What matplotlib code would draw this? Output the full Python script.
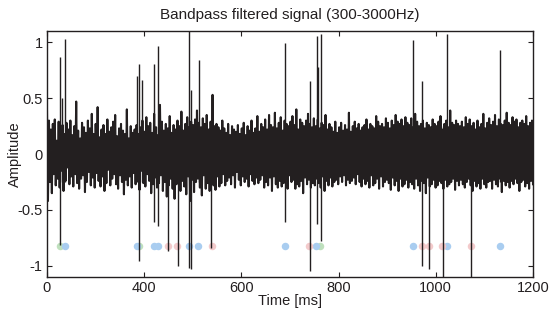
import numpy as np
import matplotlib
matplotlib.use("Agg")
import matplotlib.pyplot as plt

plt.rcParams['font.family'] = ['Liberation Sans', 'DejaVu Sans']

# ---- data ----
title = "Bandpass filtered signal (300-3000Hz)"
x_label = "Time [ms]"
y_label = "Amplitude"
x_start, x_end = 200, 1200
xtick_values = [200, 400, 600, 800, 1000, 1200]
xtick_labels = ["0", "400", "600", "800", "1000", "1200"]
ytick_values = [-1, -0.5, 0, 0.5, 1]
ytick_labels = ["-1", "-0.5", "0", "0.5", "1"]

# background noise samples
noise_values = [
    0.38,-0.42,0.30,-0.25,0.22,-0.35,0.27,-0.18,0.31,-0.28,0.12,-0.22,0.29,-0.30,0.20,-0.15,0.26,-0.33,0.18,-0.24,0.28,-0.12,0.22,-0.27,0.30,
    -0.20,0.17,-0.29,0.25,-0.18,0.47,-0.26,0.21,-0.31,0.14,-0.22,0.28,-0.19,0.24,-0.34,0.19,-0.25,0.30,-0.16,0.23,-0.28,0.36,-0.21,0.18,-0.30,
    0.27,-0.17,0.42,-0.24,0.15,-0.29,0.22,-0.20,0.26,-0.33,0.18,-0.26,0.31,-0.14,0.20,-0.28,0.24,-0.22,0.29,-0.18,0.35,-0.27,0.16,-0.31,0.23,
    -0.19,0.27,-0.25,0.21,-0.36,0.18,-0.23,0.40,-0.28,0.14,-0.20,0.25,-0.30,0.19,-0.17,0.22,-0.27,0.26,-0.22,0.18,-0.32,0.24,-0.15,0.30,-0.26,
    0.20,-0.29,0.33,-0.18,0.25,-0.24,0.28,-0.35,0.19,-0.27,0.36,-0.21,0.24,-0.30,0.17,-0.26,0.44,-0.19,0.29,-0.33,0.21,-0.25,0.27,-0.38,0.23,
    -0.28,0.34,-0.22,0.19,-0.31,0.26,-0.40,0.22,-0.27,0.30,-0.18,0.25,-0.33,0.38,-0.24,0.21,-0.29,0.27,-0.36,0.33,-0.20,0.24,-0.42,0.29,-0.23,
    0.26,-0.34,0.31,-0.25,0.39,-0.22,0.28,-0.30,0.24,-0.37,0.32,-0.19,0.27,-0.31,0.35,-0.26,0.22,-0.33,0.29,-0.24,0.53,-0.28,0.25,-0.32,0.27,
    -0.20,0.24,-0.29,0.21,-0.26,0.30,-0.18,0.23,-0.28,0.19,-0.24,0.27,-0.21,0.17,-0.27,0.25,-0.19,0.22,-0.30,0.20,-0.16,0.26,-0.23,0.18,-0.28,
    0.23,-0.20,0.28,-0.25,0.17,-0.22,0.25,-0.29,0.21,-0.18,0.30,-0.24,0.19,-0.27,0.23,-0.21,0.34,-0.26,0.20,-0.23,0.27,-0.19,0.24,-0.30,0.31,
    -0.25,0.22,-0.28,0.35,-0.21,0.26,-0.33,0.24,-0.20,0.37,-0.27,0.23,-0.30,0.28,-0.24,0.33,-0.29,0.21,-0.26,0.30,-0.22,0.27,-0.31,0.25,-0.19,
    0.29,-0.25,0.34,-0.23,0.26,-0.31,0.40,-0.27,0.22,-0.29,0.31,-0.24,0.28,-0.35,0.25,-0.21,0.30,-0.27,0.36,-0.23,0.27,-0.30,0.24,-0.26,0.32,
    -0.28,0.25,-0.22,0.31,-0.26,0.23,-0.30,0.28,-0.20,0.26,-0.33,0.35,-0.24,0.22,-0.28,0.27,-0.21,0.24,-0.29,0.20,-0.25,0.29,-0.23,0.19,-0.27,
    0.24,-0.20,0.28,-0.25,0.21,-0.19,0.26,-0.28,0.22,-0.23,0.37,-0.26,0.20,-0.24,0.25,-0.21,0.29,-0.27,0.23,-0.18,0.27,-0.25,0.21,-0.29,0.24,
    -0.22,0.26,-0.27,0.31,-0.24,0.22,-0.30,0.27,-0.19,0.25,-0.28,0.23,-0.26,0.34,-0.22,0.29,-0.31,0.25,-0.20,0.27,-0.29,0.24,-0.25,0.32,-0.23,
    0.28,-0.26,0.23,-0.32,0.30,-0.21,0.26,-0.28,0.35,-0.24,0.29,-0.33,0.27,-0.22,0.31,-0.29,0.25,-0.27,0.33,-0.23,0.28,-0.30,0.26,-0.25,0.32,
    -0.27,0.24,-0.31,0.36,-0.22,0.29,-0.28,0.25,-0.33,0.27,-0.24,0.30,-0.26,0.23,-0.35,0.28,-0.21,0.26,-0.29,0.24,-0.27,0.31,-0.23,0.27,-0.30,
    0.25,-0.28,0.29,-0.24,0.34,-0.26,0.22,-0.31,0.27,-0.23,0.30,-0.29,0.24,-0.27,0.39,-0.25,0.28,-0.22,0.26,-0.32,0.30,-0.24,0.27,-0.28,0.25,
    -0.23,0.29,-0.27,0.24,-0.30,0.33,-0.25,0.27,-0.22,0.31,-0.28,0.25,-0.33,0.28,-0.24,0.22,-0.29,0.30,-0.26,0.24,-0.31,0.27,-0.22,0.36,-0.27,
    0.23,-0.30,0.28,-0.25,0.32,-0.24,0.26,-0.31,0.29,-0.23,0.35,-0.27,0.25,-0.29,0.31,-0.22,0.27,-0.34,0.26,-0.24,0.30,-0.28,0.37,-0.25,0.28,
    -0.30,0.26,-0.24,0.33,-0.27,0.29,-0.22,0.31,-0.26,0.24,-0.33,0.28,-0.25,0.30,-0.23,0.27,-0.29,0.34,-0.26,0.25,-0.31,0.28,-0.24,0.30,-0.27,
]

# spikes: time [ms], peak (positive) and trough (negative)
spike_times = [227.4, 231.5, 236.4, 385.2, 389.9, 394.9, 420.8, 427.4, 448.4, 470.2,
               492.2, 495.7, 512.8, 538.1, 688.7, 741.2, 755.0, 758.2, 764.8, 952.5,
               971.2, 986.0, 1014.2, 1022.4, 1072.4, 1132.1]
spike_peaks = [0.87, 0.50, 1.03, 0.70, 0.81, 0.66, 0.81, 0.97, 0.20, 0.25,
               1.10, 0.57, 0.84, 0.22, 0.99, 0.65, 1.06, 0.78, 1.07, 1.02,
               0.65, 0.25, 0.25, 1.07, 0.22, 0.93]
spike_troughs = [-0.81, -0.25, -0.25, -0.25, -0.96, -0.25, -0.61, -0.64, -0.87, -1.00,
                 -1.02, -1.03, -0.25, -0.84, -0.61, -1.05, -0.63, -0.25, -0.78, -0.25,
                 -1.00, -1.03, -1.10, -0.25, -1.10, -0.25]

# detected spike markers: time [ms] and class
dot_times = [226.7, 237.7, 384.6, 389.9, 421.2, 427.4, 448.4, 468.1, 493.2, 509.7,
             538.5, 689.3, 739.1, 752.5, 761.7, 952.1, 971.6, 986.6, 1012.8, 1022.4,
             1072.8, 1131.5]
dot_classes = ["green", "blue", "blue", "green", "blue", "blue", "pink", "pink", "blue", "blue",
               "pink", "blue", "pink", "blue", "green", "blue", "pink", "pink", "pink", "blue",
               "pink", "blue"]
dot_level = -0.82
class_colors = {"green": "#bfe0bd", "blue": "#a9cdf0", "pink": "#f3cacb"}

# ---- plot ----
fig = plt.figure(figsize=(5.58, 3.21), dpi=100)
ax = fig.add_axes([0.0842, 0.137, 0.871, 0.766])

t = np.linspace(x_start, x_end, len(noise_values))
for cls, col in class_colors.items():
    xs = [x for x, c in zip(dot_times, dot_classes) if c == cls]
    ax.plot(xs, [dot_level] * len(xs), 'o', color=col, markersize=5.4,
            markeredgewidth=0, zorder=1)

ax.plot(t, noise_values, color="#231f20", linewidth=1.5, zorder=2)
ax.vlines(spike_times, spike_troughs, spike_peaks, color="#231f20", linewidth=1.0, zorder=3)

ax.set_xlim(x_start, x_end)
ax.set_ylim(-1.1, 1.1)
ax.set_xticks(xtick_values)
ax.set_xticklabels(xtick_labels)
ax.set_yticks(ytick_values)
ax.set_yticklabels(ytick_labels)
ax.tick_params(direction="in", length=3.5, width=0.8, top=True, right=True,
               labelsize=10.5, pad=3, colors="#231f20")
for s in ax.spines.values():
    s.set_linewidth(1.0)
    s.set_color("#231f20")

ax.set_title(title, fontsize=11, pad=9, color="#231f20")
ax.set_xlabel(x_label, fontsize=10.5, labelpad=-1, color="#231f20")
ax.set_ylabel(y_label, fontsize=10.5, color="#231f20")
ax.yaxis.set_label_coords(-0.052, 0.5)

fig.savefig("out.png", dpi=100)
